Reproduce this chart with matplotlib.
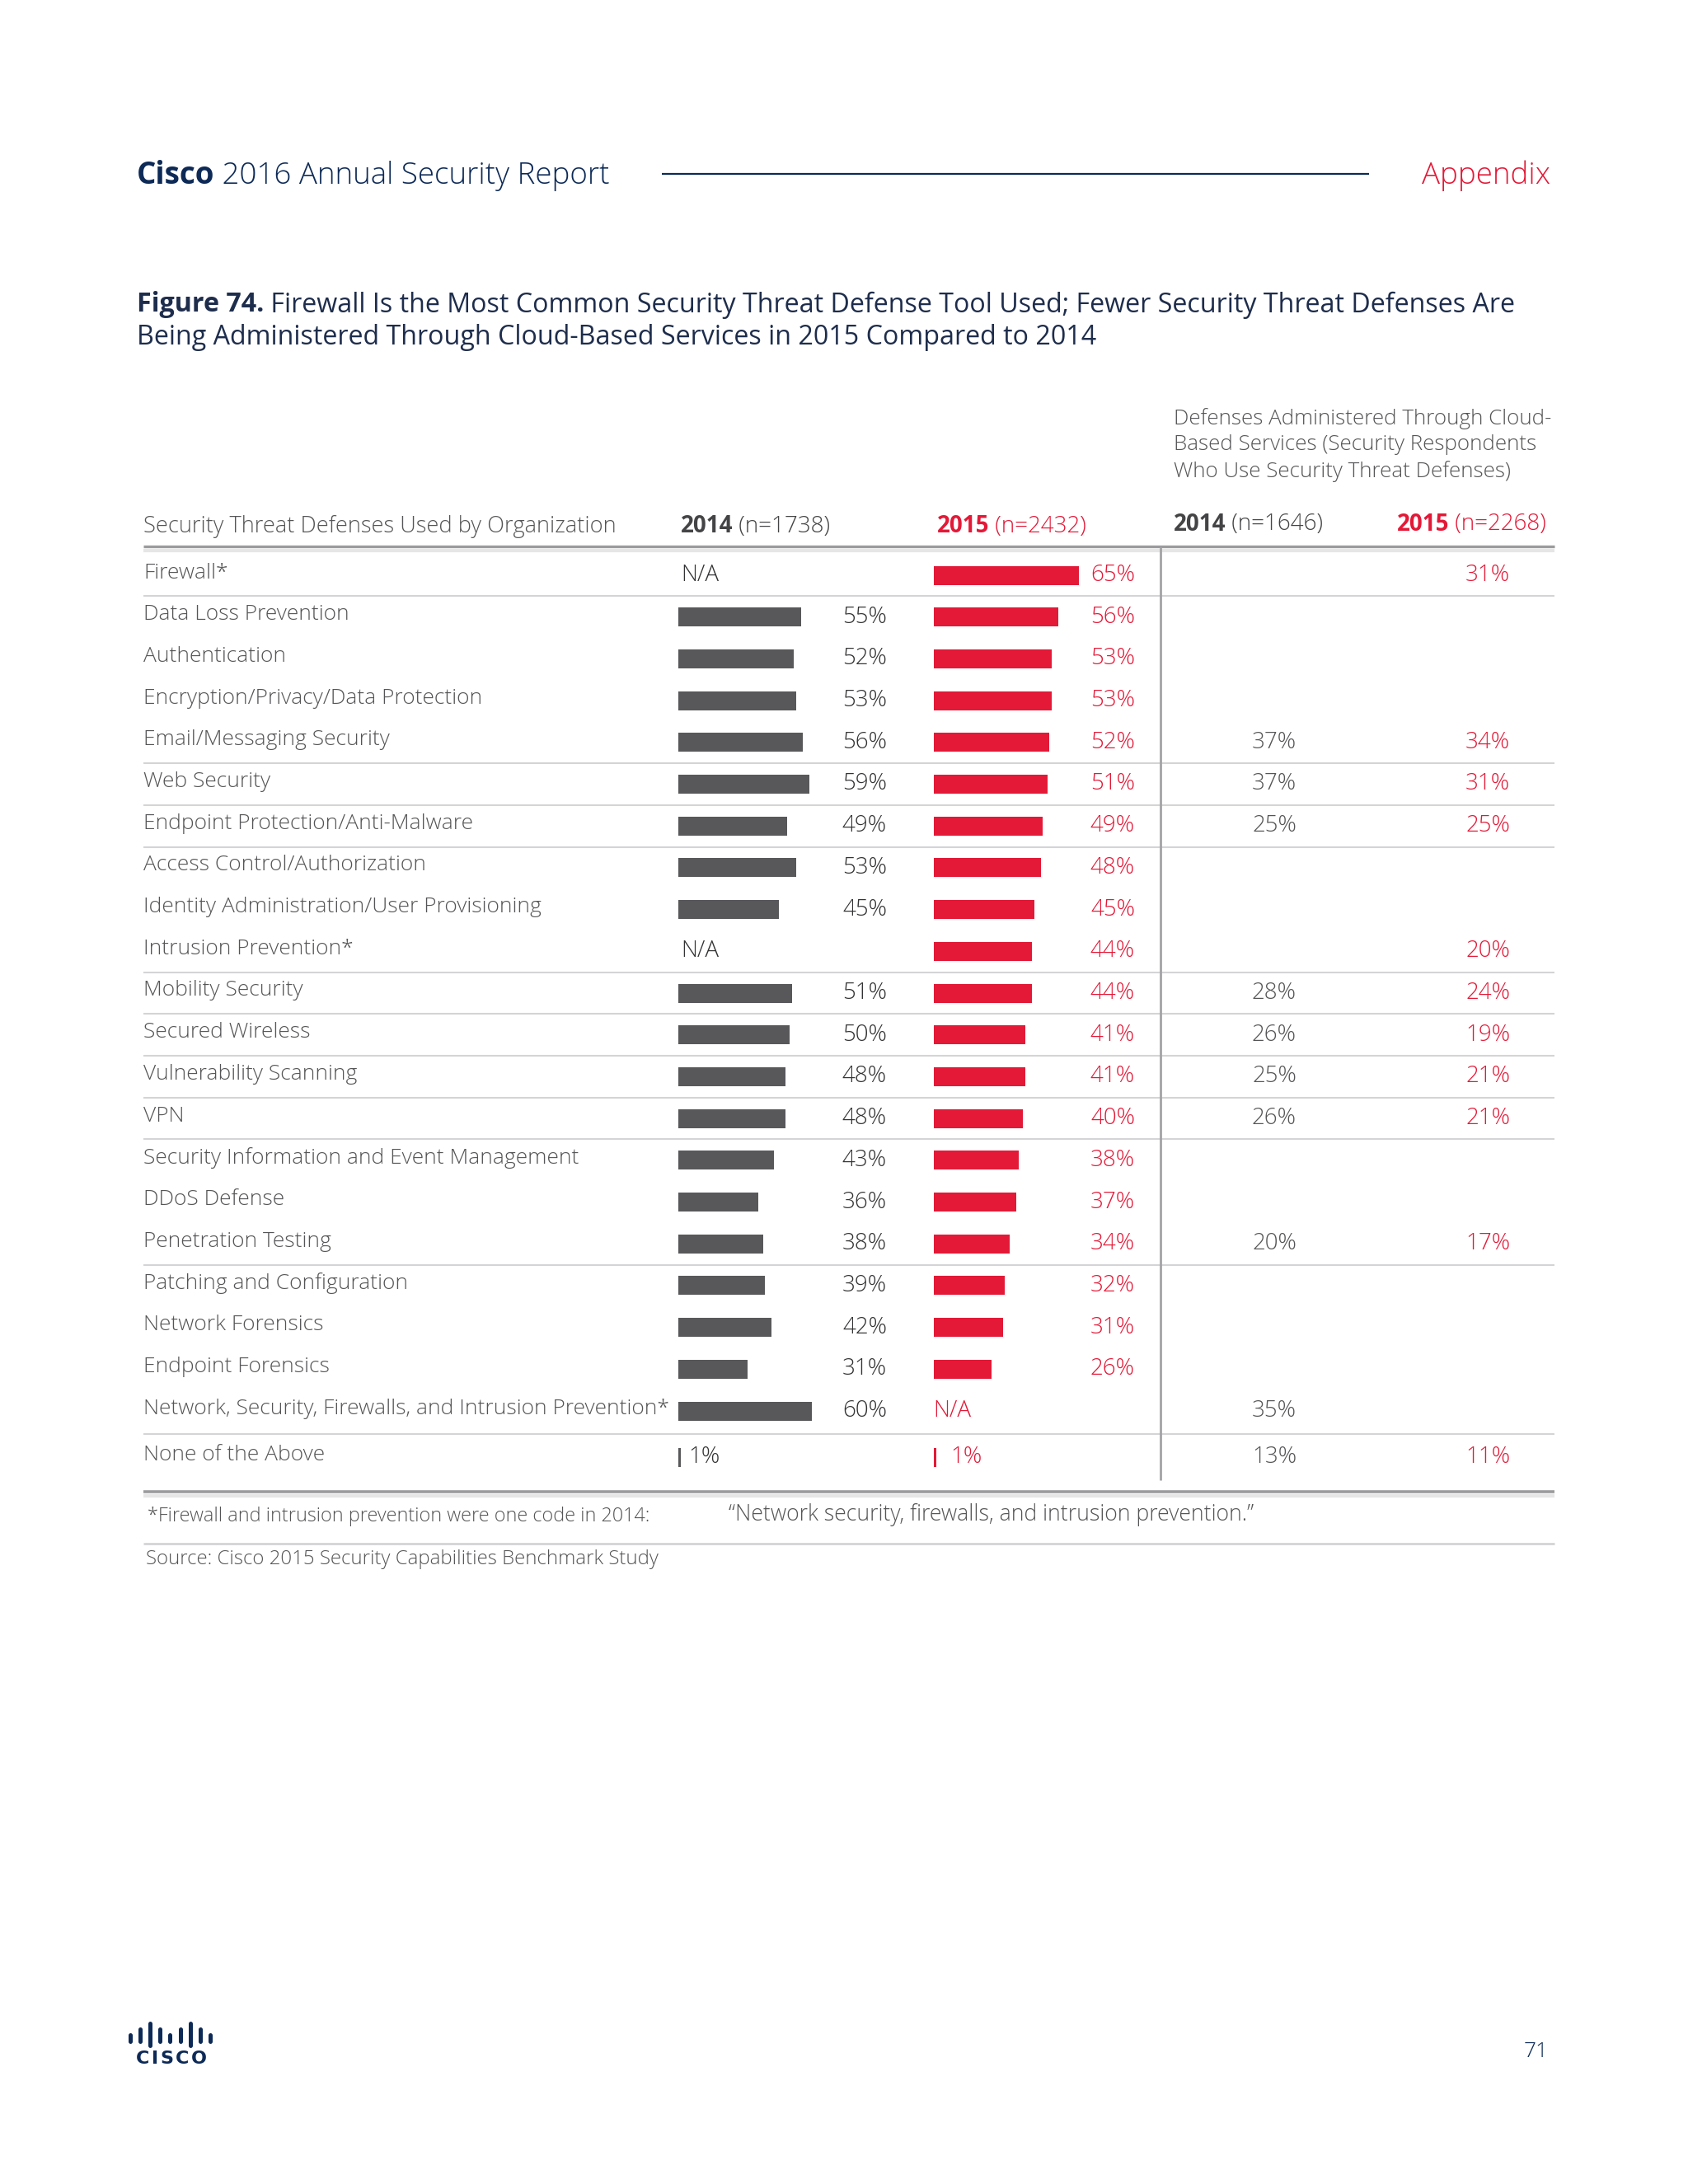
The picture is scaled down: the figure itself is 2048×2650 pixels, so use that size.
import matplotlib
matplotlib.use("Agg")
import matplotlib.pyplot as plt

# ---------------- data ----------------
categories = [
    "Firewall*", "Data Loss Prevention", "Authentication",
    "Encryption/Privacy/Data Protection", "Email/Messaging Security",
    "Web Security", "Endpoint Protection/Anti-Malware",
    "Access Control/Authorization", "Identity Administration/User Provisioning",
    "Intrusion Prevention*", "Mobility Security", "Secured Wireless",
    "Vulnerability Scanning", "VPN", "Security Information and Event Management",
    "DDoS Defense", "Penetration Testing", "Patching and Configuration",
    "Network Forensics", "Endpoint Forensics",
    "Network, Security, Firewalls, and Intrusion Prevention*", "None of the Above",
]
used_2014 = [None, 55, 52, 53, 56, 59, 49, 53, 45, None, 51, 50, 48, 48, 43, 36, 38, 39, 42, 31, 60, 1]
used_2015 = [65, 56, 53, 53, 52, 51, 49, 48, 45, 44, 44, 41, 41, 40, 38, 37, 34, 32, 31, 26, None, 1]
cloud_2014 = [None, None, None, None, 37, 37, 25, None, None, None, 28, 26, 25, 26, None, None, 20, None, None, None, 35, 13]
cloud_2015 = [31, None, None, None, 34, 31, 25, None, None, 20, 24, 19, 21, 21, None, None, 17, None, None, None, None, 11]
separator_after = [0, 4, 5, 6, 9, 10, 11, 12, 13, 16, 20]

col_headers = [("2014", " (n=1738)"), ("2015", " (n=2432)"), ("2014", " (n=1646)"), ("2015", " (n=2268)")]

# ---------------- style ----------------
W, H = 2048, 2650
NAVY = "#0d2a57"
RED = "#e31937"
GRAY_BAR = "#58585b"
TXT = "#555557"
DARK = "#333335"
FONT = "Open Sans"
LW = "light"
plt.rcParams["font.family"] = [FONT, "DejaVu Sans"]

fig = plt.figure(figsize=(W / 100, H / 100), dpi=100)
fig.patch.set_facecolor("white")
ax = fig.add_axes([0, 0, 1, 1])
ax.set_xlim(0, W)
ax.set_ylim(H, 0)
ax.axis("off")
renderer = fig.canvas.get_renderer()


def rich(x, y, parts, size, va="center", ha="left"):
    """parts: list of (text, color, weight). Draw consecutively."""
    widths = []
    objs = []
    for txt, col, wt in parts:
        t = ax.text(0, y, txt, fontsize=size, color=col, fontweight=wt, va=va, ha="left")
        bb = t.get_window_extent(renderer)
        widths.append(bb.width)
        objs.append(t)
    total = sum(widths)
    cx = x - total if ha == "right" else x
    for t, w in zip(objs, widths):
        t.set_x(cx)
        cx += w


# ---------------- page header ----------------
rich(166, 213, [("Cisco", NAVY, "bold"), (" 2016 Annual Security Report", NAVY, LW)], 26.5)
ax.plot([803, 1661], [211, 211], color=NAVY, lw=1.6, solid_capstyle="butt")
ax.text(1881, 213, "Appendix", fontsize=26.5, color=RED, ha="right", va="center", fontweight=LW)

# ---------------- figure title ----------------
TITLE = "#1e2d4c"
rich(166, 370, [("Figure 74.", TITLE, "bold"),
                (" Firewall Is the Most Common Security Threat Defense Tool Used; Fewer Security Threat Defenses Are", TITLE, "normal")], 23.2)
ax.text(166, 410, "Being Administered Through Cloud-Based Services in 2015 Compared to 2014",
        fontsize=23.2, color=TITLE, va="center")

# ---------------- table headers ----------------
for i, line in enumerate(["Defenses Administered Through Cloud-",
                          "Based Services (Security Respondents",
                          "Who Use Security Threat Defenses)"]):
    ax.text(1424, 508 + i * 32, line, fontsize=18.7, color=TXT, va="center", fontweight=LW)

ax.text(174, 639, "Security Threat Defenses Used by Organization", fontsize=19.6, color=TXT,
        va="center", fontweight=LW)
hdr_x = [826, 1137, 1424, 1695]
hdr_y = [639, 639, 636, 636]
hdr_col = ["#444446", RED, "#444446", RED]
for (yr, n), x, y, c in zip(col_headers, hdr_x, hdr_y, hdr_col):
    rich(x, y, [(yr, c, "bold"), (n, c, LW)], 20)

# thick header rule
ax.plot([174, 1886], [663, 663], color="#9b9b9d", lw=2.4, solid_capstyle="butt")
ax.plot([174, 1886], [667.5, 667.5], color="#e6e6e6", lw=3, solid_capstyle="butt")

# ---------------- rows ----------------
row0, step = 698, 50.7
row_y = [row0 + i * step for i in range(len(categories) - 1)]
row_y.append(1768)

BAR_H = 23
PX_PER_PCT = 2.7
ax14 = fig.add_axes([823 / W, 0, 100 * PX_PER_PCT / W, 1])
ax15 = fig.add_axes([1133 / W, 0, 100 * PX_PER_PCT / W, 1])
for a, vals, col in [(ax14, used_2014, GRAY_BAR), (ax15, used_2015, RED)]:
    a.set_xlim(0, 100)
    a.set_ylim(H, 0)
    a.axis("off")
    a.patch.set_alpha(0)
    ys = [y for y, v in zip(row_y, vals) if v is not None]
    vs = [v for v in vals if v is not None]
    a.barh(ys, vs, height=BAR_H, left=0, color=col, edgecolor="none")

FS = 19
FV = 20
for i, (cat, y) in enumerate(zip(categories, row_y)):
    ax.text(174, y - 3, cat, fontsize=FS, color=TXT, va="center", fontweight=LW)
    v = used_2014[i]
    if v is None:
        ax.text(826, y, "N/A", fontsize=FV, color=DARK, va="center", fontweight=LW)
    elif v < 5:
        ax.text(823 + v * PX_PER_PCT + 10, y, f"{v}%", fontsize=FV, color=DARK, va="center", fontweight=LW)
    else:
        ax.text(1076, y, f"{v}%", fontsize=FV, color=DARK, va="center", ha="right", fontweight=LW)
    v = used_2015[i]
    if v is None:
        ax.text(1132, y, "N/A", fontsize=FV, color=RED, va="center", fontweight=LW)
    elif v < 5:
        ax.text(1133 + v * PX_PER_PCT + 18, y, f"{v}%", fontsize=FV, color=RED, va="center", fontweight=LW)
    else:
        ax.text(1377, y, f"{v}%", fontsize=FV, color=RED, va="center", ha="right", fontweight=LW)
    if cloud_2014[i] is not None:
        ax.text(1573, y, f"{cloud_2014[i]}%", fontsize=FV, color=TXT, va="center", ha="right", fontweight=LW)
    if cloud_2015[i] is not None:
        ax.text(1832, y, f"{cloud_2015[i]}%", fontsize=FV, color=RED, va="center", ha="right", fontweight=LW)

for i in separator_after:
    ys = (row_y[i] + row_y[i + 1]) / 2
    ax.plot([174, 1886], [ys, ys], color="#d4d4d6", lw=1.5, solid_capstyle="butt")

# vertical divider
ax.plot([1408, 1408], [664, 1796], color="#a3a3a5", lw=2, solid_capstyle="butt")

# bottom thick rule
ax.plot([174, 1886], [1810, 1810], color="#9b9b9d", lw=2.6, solid_capstyle="butt")
ax.plot([174, 1886], [1814.5, 1814.5], color="#e6e6e6", lw=3, solid_capstyle="butt")

# ---------------- footnotes ----------------
ax.text(179, 1840, "*Firewall and intrusion prevention were one code in 2014:", fontsize=16.8,
        color=TXT, va="center", fontweight=LW)
ax.text(884, 1838, "\u201cNetwork security, firewalls, and intrusion prevention.\u201d", fontsize=19.2,
        color=TXT, va="center", fontweight=LW)
ax.plot([174, 1886], [1873, 1873], color="#d4d4d6", lw=2, solid_capstyle="butt")
ax.text(177, 1892, "Source: Cisco 2015 Security Capabilities Benchmark Study", fontsize=17.3,
        color=TXT, va="center", fontweight=LW)

# ---------------- footer: logo + page number ----------------
logo_x0, logo_step = 158, 12.1
logo_heights = ["s", "m", "t", "m", "s", "m", "t", "m", "s"]
spans = {"s": (2469, 2477), "m": (2462, 2477), "t": (2455, 2482)}
for k, h in enumerate(logo_heights):
    y0, y1 = spans[h]
    ax.plot([logo_x0 + k * logo_step] * 2, [y0, y1], color=NAVY, lw=3.6, solid_capstyle="round")

# wordmark with tracking
cx = 165
for ch in "CISCO":
    t = ax.text(cx, 2498, ch, fontsize=16, fontweight="bold", color=NAVY,
                ha="left", va="center", family="DejaVu Sans")
    cx += t.get_window_extent(renderer).width + 2.5

ax.text(1879, 2489, "71", fontsize=19, color=NAVY, ha="right", va="center", fontweight=LW)

fig.savefig("out.png", dpi=100, facecolor="white")
